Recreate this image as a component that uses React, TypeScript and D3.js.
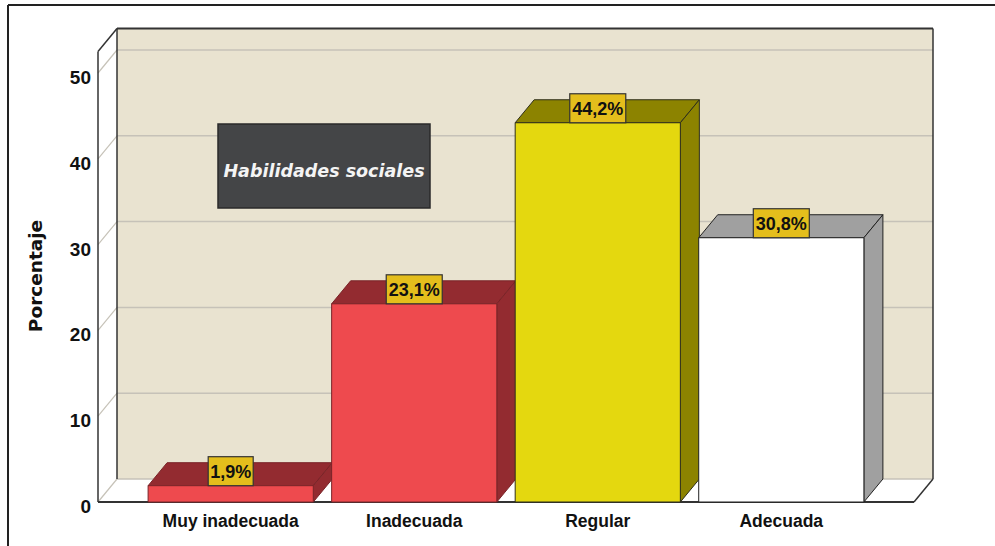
import React from 'react'
import * as d3 from 'd3'

// datos del gráfico
const categories = ['Muy inadecuada', 'Inadecuada', 'Regular', 'Adecuada']
const percentages = [1.9, 23.1, 44.2, 30.8]
const valueLabels = ['1,9%', '23,1%', '44,2%', '30,8%']
const yTicks = [0, 10, 20, 30, 40, 50]

const frontColors = ['#EE4A4E', '#EE4A4E', '#E4D80F', '#FFFFFF']
const darkColors = ['#932B30', '#932B30', '#8C8300', '#A0A0A0']
const edgeColors = ['#7A2428', '#7A2428', '#2E2E1A', '#222222']

const W = 995
const H = 546
const DX = 19
const DY = 23
const Y_TOP = 52.5

const App: React.FC = () => {
  const x = d3.scaleBand<string>()
    .domain(categories)
    .range([98, 914])
    .paddingInner(0.1)
    .paddingOuter(0.273)

  // eje frontal; la pared del fondo se desplaza DX/DY
  const yF = d3.scaleLinear().domain([0, 50]).range([502, 73])
  const yB = (v: number) => yF(v) - DY

  const fx0 = 98
  const fx1 = 914
  const bx0 = fx0 + DX
  const bx1 = fx1 + DX
  const frameLine = '#333333'
  const sans = '"Liberation Sans", Arial, sans-serif'
  const wide = '"DejaVu Sans", Verdana, sans-serif'

  return (
    <svg width={W} height={H} style={{ position: 'absolute', left: 0, top: 0, background: '#fff' }}>
      {/* marco exterior */}
      <line x1={8} y1={5} x2={W} y2={5} stroke="#222" strokeWidth={2} />
      <line x1={8} y1={5} x2={8} y2={H} stroke="#222" strokeWidth={2} />

      {/* pared del fondo */}
      <rect x={bx0} y={yB(Y_TOP)} width={bx1 - bx0} height={yB(0) - yB(Y_TOP)} fill="#E9E3D0" />
      {/* pared lateral izquierda */}
      <polygon
        points={`${fx0},${yF(Y_TOP)} ${bx0},${yB(Y_TOP)} ${bx0},${yB(0)} ${fx0},${yF(0)}`}
        fill="#FFFFFF"
      />
      {/* suelo */}
      <polygon
        points={`${fx0},${yF(0)} ${fx1},${yF(0)} ${bx1},${yB(0)} ${bx0},${yB(0)}`}
        fill="#FFFFFF"
      />

      {/* líneas de cuadrícula */}
      {yTicks.map(t => (
        <g key={t}>
          <line x1={bx0} y1={yB(t)} x2={bx1} y2={yB(t)} stroke="#C6C2B8" strokeWidth={1.5} />
          <line x1={fx0} y1={yF(t)} x2={bx0} y2={yB(t)} stroke="#C6C2B8" strokeWidth={1.2} />
        </g>
      ))}

      {/* aristas */}
      <line x1={fx0} y1={yF(Y_TOP)} x2={fx0} y2={yF(0)} stroke={frameLine} strokeWidth={1.5} />
      <line x1={fx0} y1={yF(Y_TOP)} x2={bx0} y2={yB(Y_TOP)} stroke={frameLine} strokeWidth={1.5} />
      <line x1={bx0} y1={yB(Y_TOP)} x2={bx0} y2={yB(0)} stroke={frameLine} strokeWidth={1.5} />
      <line x1={bx0} y1={yB(Y_TOP)} x2={bx1} y2={yB(Y_TOP)} stroke={frameLine} strokeWidth={2} />
      <line x1={bx1} y1={yB(Y_TOP)} x2={bx1} y2={yB(0)} stroke={frameLine} strokeWidth={1.5} />
      <line x1={fx0} y1={yF(0)} x2={fx1} y2={yF(0)} stroke={frameLine} strokeWidth={2} />
      <line x1={fx1} y1={yF(0)} x2={bx1} y2={yB(0)} stroke={frameLine} strokeWidth={1.5} />

      {/* barras 3D */}
      {categories.map((c, i) => {
        const x0 = x(c) || 0
        const x1 = x0 + x.bandwidth()
        const yt = yF(percentages[i])
        const yb = yF(0)
        return (
          <g key={c} stroke={edgeColors[i]} strokeWidth={1} strokeLinejoin="round">
            <polygon
              points={`${x0},${yt} ${x0 + DX},${yt - DY} ${x1 + DX},${yt - DY} ${x1},${yt}`}
              fill={darkColors[i]}
            />
            <polygon
              points={`${x1},${yt} ${x1 + DX},${yt - DY} ${x1 + DX},${yb - DY} ${x1},${yb}`}
              fill={darkColors[i]}
            />
            <rect x={x0} y={yt} width={x1 - x0} height={yb - yt} fill={frontColors[i]} />
          </g>
        )
      })}

      {/* etiquetas de valor */}
      {categories.map((c, i) => {
        const cx = (x(c) || 0) + x.bandwidth() / 2
        const yt = yF(percentages[i])
        const bw = valueLabels[i].length * 11 + 1
        return (
          <g key={c}>
            <rect x={cx - bw / 2} y={yt - 29} width={bw} height={29} fill="#E4BE1C" stroke="#333" strokeWidth={1.2} />
            <text
              x={cx}
              y={yt - 8}
              textAnchor="middle"
              fontFamily={sans}
              fontWeight="bold"
              fontSize={18}
              fill="#111"
            >
              {valueLabels[i]}
            </text>
          </g>
        )
      })}

      {/* etiquetas eje Y */}
      {yTicks.map(t => (
        <text
          key={t}
          x={91}
          y={yF(t) + 11}
          textAnchor="end"
          fontFamily={sans}
          fontWeight="bold"
          fontSize={19}
          fill="#111"
        >
          {t}
        </text>
      ))}

      {/* etiquetas categorías */}
      {categories.map(c => (
        <text
          key={c}
          x={(x(c) || 0) + x.bandwidth() / 2}
          y={527}
          textAnchor="middle"
          fontFamily={sans}
          fontWeight="bold"
          fontSize={17.5}
          fill="#111"
        >
          {c}
        </text>
      ))}

      {/* título eje Y */}
      <text
        transform="translate(42, 276) rotate(-90)"
        textAnchor="middle"
        fontFamily={wide}
        fontWeight="bold"
        fontSize={18.5}
        fill="#111"
      >
        Porcentaje
      </text>

      {/* leyenda */}
      <rect x={218} y={124} width={212} height={84} fill="#444547" stroke="#2A2A2A" strokeWidth={1.5} />
      <text
        x={324}
        y={177}
        textAnchor="middle"
        fontFamily={wide}
        fontWeight="bold"
        fontStyle="italic"
        fontSize={17.5}
        fill="#F4F4F4"
      >
        Habilidades sociales
      </text>
    </svg>
  )
}

export default App
